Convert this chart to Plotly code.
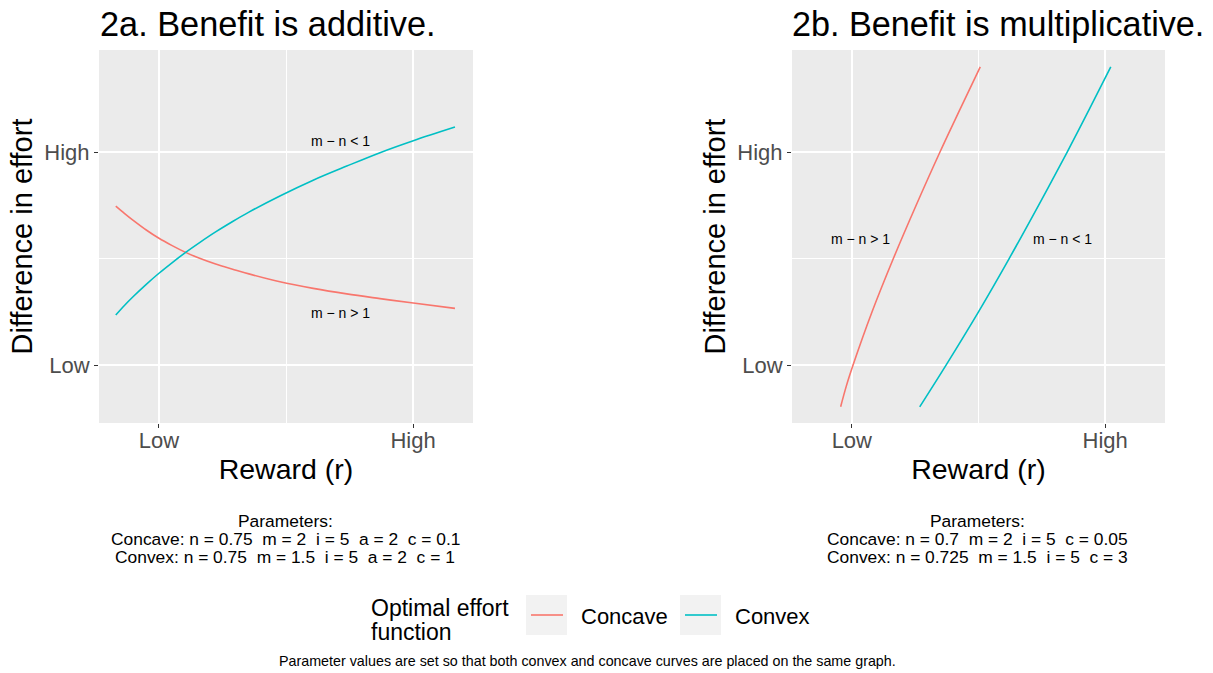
import plotly.graph_objects as go

# ---------------- data ----------------
# Panel 2a: benefit is additive (abstract units: Low = 0, High = 1)
add_reward = [-0.170, -0.135, -0.10, -0.05, 0.0, 0.05, 0.105, 0.16, 0.223, 0.29,
              0.354, 0.476, 0.607, 0.739, 0.870, 1.001, 1.165]
add_concave = [0.746, 0.711, 0.678, 0.634, 0.595, 0.562, 0.529, 0.501, 0.474, 0.450,
               0.428, 0.391, 0.360, 0.334, 0.312, 0.291, 0.266]
add_convex = [0.235, 0.281, 0.323, 0.379, 0.431, 0.479, 0.529, 0.575, 0.625, 0.674,
              0.718, 0.794, 0.868, 0.934, 0.997, 1.053, 1.117]

# Panel 2b: benefit is multiplicative
mult_concave_reward = [-0.044, -0.022, 0.005, 0.080, 0.164, 0.254, 0.348, 0.427, 0.507]
mult_concave = [-0.196, -0.100, 0.000, 0.250, 0.500, 0.750, 1.000, 1.200, 1.400]
mult_convex_reward = [0.268, 0.372, 0.500, 0.621, 0.737, 0.850, 0.937, 1.022]
mult_convex = [-0.196, 0.000, 0.250, 0.500, 0.750, 1.000, 1.200, 1.400]

tick_vals = [0, 1]
tick_text = ["Low", "High"]
series_names = ["Concave", "Convex"]
colors = ["#F8766D", "#00BFC4"]

panel_titles = ["2a. Benefit is additive.", "2b. Benefit is multiplicative."]
param_lines_a = ["Parameters:",
                 "Concave: n = 0.75  m = 2  i = 5  a = 2  c = 0.1",
                 "Convex: n = 0.75  m = 1.5  i = 5  a = 2  c = 1"]
param_lines_b = ["Parameters:",
                 "Concave: n = 0.7  m = 2  i = 5  c = 0.05",
                 "Convex: n = 0.725  m = 1.5  i = 5  c = 3"]
curve_labels = [  # (panel, x, y, text)
    (1, 0.714, 1.053, "m \u2212 n < 1"),
    (1, 0.714, 0.244, "m \u2212 n > 1"),
    (2, 0.035, 0.592, "m \u2212 n > 1"),
    (2, 0.831, 0.592, "m \u2212 n < 1"),
]
legend_title = ["Optimal effort", "function"]
caption = "Parameter values are set so that both convex and concave curves are placed on the same graph."

# ---------------- figure ----------------
OFF = 0                      # page body margin is removed below
W, H = 1213 - OFF, 673 - OFF
FONT = "Liberation Sans, Arial, sans-serif"

def px_x(p):
    return (p - OFF) / W

def px_y(p):
    return 1 - (p - OFF) / H

fig = go.Figure()

lw = 1.6
fig.add_trace(go.Scatter(x=add_reward, y=add_concave, mode="lines", name=series_names[0],
                         line=dict(color=colors[0], width=lw, shape="spline"),
                         xaxis="x", yaxis="y", showlegend=False))
fig.add_trace(go.Scatter(x=add_reward, y=add_convex, mode="lines", name=series_names[1],
                         line=dict(color=colors[1], width=lw, shape="spline"),
                         xaxis="x", yaxis="y", showlegend=False))
fig.add_trace(go.Scatter(x=mult_concave_reward, y=mult_concave, mode="lines", name=series_names[0],
                         line=dict(color=colors[0], width=lw, shape="spline"),
                         xaxis="x2", yaxis="y2", showlegend=False))
fig.add_trace(go.Scatter(x=mult_convex_reward, y=mult_convex, mode="lines", name=series_names[1],
                         line=dict(color=colors[1], width=lw, shape="spline"),
                         xaxis="x2", yaxis="y2", showlegend=False))

xrange = [-0.236, 1.236]
yrange = [-0.272, 1.479]
ydom = [px_y(423), px_y(50)]

def xaxis_cfg(domain, anchor):
    return dict(domain=domain, anchor=anchor, range=xrange, tickvals=tick_vals, ticktext=tick_text,
                ticks="outside", ticklen=4, tickwidth=1, tickcolor="#333333",
                ticklabelstandoff=-6,
                tickfont=dict(size=22, color="#4D4D4D", family=FONT),
                showgrid=True, gridcolor="white", gridwidth=1.5, zeroline=False, showline=False,
                minor=dict(tickvals=[0.5], showgrid=True, gridcolor="white", gridwidth=0.7, ticks=""),
                title=dict(text="Reward (r)", font=dict(size=28.5, color="black", family=FONT), standoff=6),
                fixedrange=True)

def yaxis_cfg(anchor):
    return dict(domain=ydom, anchor=anchor, range=yrange, tickvals=tick_vals, ticktext=tick_text,
                ticks="outside", ticklen=4, tickwidth=1, tickcolor="#333333",
                tickfont=dict(size=22, color="#4D4D4D", family=FONT),
                showgrid=True, gridcolor="white", gridwidth=1.5, zeroline=False, showline=False,
                minor=dict(tickvals=[0.5], showgrid=True, gridcolor="white", gridwidth=0.7, ticks=""),
                title=dict(text="Difference in effort", font=dict(size=29, color="black", family=FONT), standoff=3),
                fixedrange=True)

fig.update_layout(
    width=W, height=H, autosize=False,
    margin=dict(l=0, r=0, t=0, b=0),
    paper_bgcolor="white", plot_bgcolor="#EBEBEB",
    font=dict(family=FONT, color="black"),
    xaxis=xaxis_cfg([px_x(99), px_x(473)], "y"),
    yaxis=yaxis_cfg("x"),
    xaxis2=xaxis_cfg([px_x(792), px_x(1165)], "y2"),
    yaxis2=yaxis_cfg("x2"),
    showlegend=False,
    hovermode=False,
)

annotations = []
# panel titles
annotations.append(dict(text=panel_titles[0], x=px_x(98), y=px_y(24), xref="paper", yref="paper",
                        xanchor="left", yanchor="middle", showarrow=False,
                        font=dict(size=34.3, color="black", family=FONT)))
annotations.append(dict(text=panel_titles[1], x=px_x(790), y=px_y(24), xref="paper", yref="paper",
                        xanchor="left", yanchor="middle", showarrow=False,
                        font=dict(size=34.2, color="black", family=FONT)))
# curve labels
for panel, lx, ly, txt in curve_labels:
    annotations.append(dict(text=txt, x=lx, y=ly, xref="x" if panel == 1 else "x2",
                            yref="y" if panel == 1 else "y2", showarrow=False,
                            xanchor="center", yanchor="middle",
                            font=dict(size=14, color="black", family=FONT)))
# parameter text
line_y = [520.7, 539.3, 557.3]
for cx, lines in ((285, param_lines_a), (977, param_lines_b)):
    for ty, t in zip(line_y, lines):
        annotations.append(dict(text=t.replace("  ", "&nbsp; "), x=px_x(cx), y=px_y(ty),
                                xref="paper", yref="paper",
                                xanchor="center", yanchor="middle", showarrow=False,
                                font=dict(size=17.4, color="black", family=FONT)))
# caption
annotations.append(dict(text=caption, x=px_x(587), y=px_y(661), xref="paper", yref="paper",
                        xanchor="center", yanchor="middle", showarrow=False,
                        font=dict(size=14.3, color="black", family=FONT)))

# legend (drawn as a key block like ggplot's)
annotations.append(dict(text=legend_title[0], x=px_x(369), y=px_y(608), xref="paper", yref="paper",
                        xanchor="left", yanchor="middle", showarrow=False,
                        font=dict(size=23, color="black", family=FONT)))
annotations.append(dict(text=legend_title[1], x=px_x(369), y=px_y(632), xref="paper", yref="paper",
                        xanchor="left", yanchor="middle", showarrow=False,
                        font=dict(size=23, color="black", family=FONT)))
shapes = []
for (bx0, bx1, tx), name, col in zip(((526, 567, 579), (680, 721, 733)), series_names, colors):
    shapes.append(dict(type="rect", xref="paper", yref="paper", x0=px_x(bx0), x1=px_x(bx1),
                       y0=px_y(635), y1=px_y(595), fillcolor="#F2F2F2", line=dict(width=0)))
    shapes.append(dict(type="line", xref="paper", yref="paper", x0=px_x(bx0 + 5), x1=px_x(bx1 - 4),
                       y0=px_y(615), y1=px_y(615), line=dict(color=col, width=lw)))
    annotations.append(dict(text=name, x=px_x(tx), y=px_y(616), xref="paper", yref="paper",
                            xanchor="left", yanchor="middle", showarrow=False,
                            font=dict(size=22, color="black", family=FONT)))

fig.update_layout(annotations=annotations, shapes=shapes)

fig.write_html("out.html", config={"displayModeBar": False, "staticPlot": False},
               post_script="document.body.style.margin='0px';document.body.style.overflow='hidden';")
